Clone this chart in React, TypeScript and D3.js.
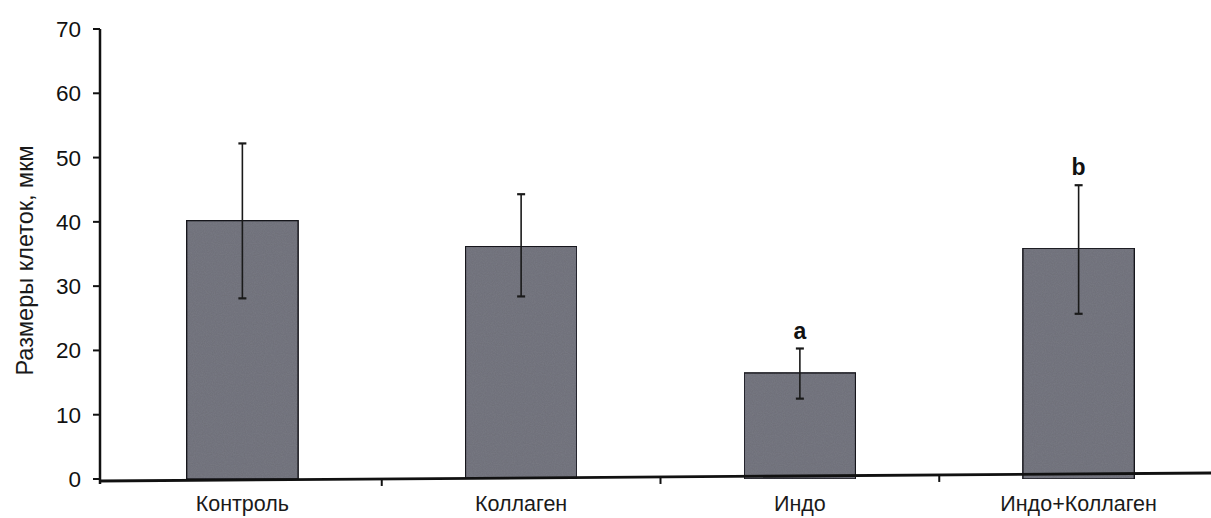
import * as d3 from 'd3'

const categories = ['Контроль', 'Коллаген', 'Индо', 'Индо+Коллаген']
const means = [40.2, 36.2, 16.5, 35.9]
const errUpper = [52.2, 44.3, 20.3, 45.7]
const errLower = [28.1, 28.4, 12.5, 25.7]
const marks = ['', '', 'a', 'b']
const yTicks = [0, 10, 20, 30, 40, 50, 60, 70]
const yLabel = 'Размеры клеток, мкм'

export default function App() {
  const width = 1211
  const height = 518
  const axisX = 100
  const x = d3.scaleBand<string>().domain(categories).range([103, 1218]).paddingInner(0.6).paddingOuter(0.3)
  const y = d3.scaleLinear().domain([0, 70]).range([479, 29])
  const step = x.step()
  const font = '"Liberation Sans", Arial, sans-serif'
  const barFill = '#787983'

  return (
    <div style={{ position: 'fixed', left: 0, top: 0, background: '#fff' }}>
      <svg width={width} height={height} viewBox={`0 0 ${width} ${height}`} style={{ display: 'block' }}>
        <defs>
          <filter id="grain" x="0" y="0" width="100%" height="100%">
            <feTurbulence type="fractalNoise" baseFrequency="0.9" numOctaves="2" seed="3" result="noise" />
            <feColorMatrix
              in="noise"
              type="matrix"
              values="0 0 0 0 0  0 0 0 0 0  0 0 0 0 0  0 0 0 0.18 0"
              result="dots"
            />
            <feComposite in="dots" in2="SourceGraphic" operator="in" result="clip" />
            <feMerge>
              <feMergeNode in="SourceGraphic" />
              <feMergeNode in="clip" />
            </feMerge>
          </filter>
        </defs>

        {/* y axis label */}
        <text
          transform={`translate(33,${y(34)}) rotate(-90)`}
          textAnchor="middle"
          fontFamily={font}
          fontSize="23.5"
          fill="#1a1a1a"
        >
          {yLabel}
        </text>

        {/* bars */}
        {categories.map((c, i) => (
          <rect
            key={c}
            x={x(c)}
            y={y(means[i])}
            width={x.bandwidth()}
            height={y(0) - y(means[i])}
            fill={barFill}
            stroke="#1e1e24"
            strokeWidth="1.5"
            filter="url(#grain)"
          />
        ))}

        {/* error bars */}
        {categories.map((c, i) => {
          const cx = (x(c) ?? 0) + x.bandwidth() / 2
          return (
            <g key={c} stroke="#1a1a1a" strokeWidth="1.6">
              <line x1={cx} x2={cx} y1={y(errUpper[i])} y2={y(errLower[i])} />
              <line x1={cx - 4} x2={cx + 4} y1={y(errUpper[i])} y2={y(errUpper[i])} strokeWidth="2.2" />
              <line x1={cx - 4} x2={cx + 4} y1={y(errLower[i])} y2={y(errLower[i])} strokeWidth="2.2" />
            </g>
          )
        })}

        {/* significance marks */}
        {categories.map((c, i) =>
          marks[i] ? (
            <text
              key={c}
              x={(x(c) ?? 0) + x.bandwidth() / 2}
              y={y(errUpper[i]) - 10}
              textAnchor="middle"
              fontFamily={font}
              fontWeight="bold"
              fontSize="23"
              fill="#111"
            >
              {marks[i]}
            </text>
          ) : null,
        )}

        {/* y axis */}
        <line x1={axisX} x2={axisX} y1={y(70)} y2={y(0) + 5} stroke="#111" strokeWidth="2.5" />
        {yTicks.map((t) => (
          <g key={t} transform={`translate(0,${y(t)})`}>
            <line x1={axisX - 7} x2={axisX} y1={0} y2={0} stroke="#111" strokeWidth="2" />
            <text
              x={axisX - 19}
              y={8}
              textAnchor="end"
              fontFamily={font}
              fontSize="22.5"
              fill="#111"
            >
              {t}
            </text>
          </g>
        ))}

        {/* x axis */}
        <line x1={axisX - 1} x2={width} y1={y(0) + 2} y2={y(0) - 6} stroke="#111" strokeWidth="2.8" />
        {categories.slice(1).map((c) => {
          const bx = (x(c) ?? 0) - (step - x.bandwidth()) / 2
          const by = y(0) + 2 - (8 * (bx - axisX)) / (width - axisX)
          return <line key={c} x1={bx} x2={bx} y1={by} y2={by + 7} stroke="#111" strokeWidth="2" />
        })}
        {categories.map((c) => (
          <text
            key={c}
            x={(x(c) ?? 0) + x.bandwidth() / 2}
            y={511}
            textAnchor="middle"
            fontFamily={font}
            fontSize="21.5"
            fill="#1a1a1a"
          >
            {c}
          </text>
        ))}
      </svg>
    </div>
  )
}
